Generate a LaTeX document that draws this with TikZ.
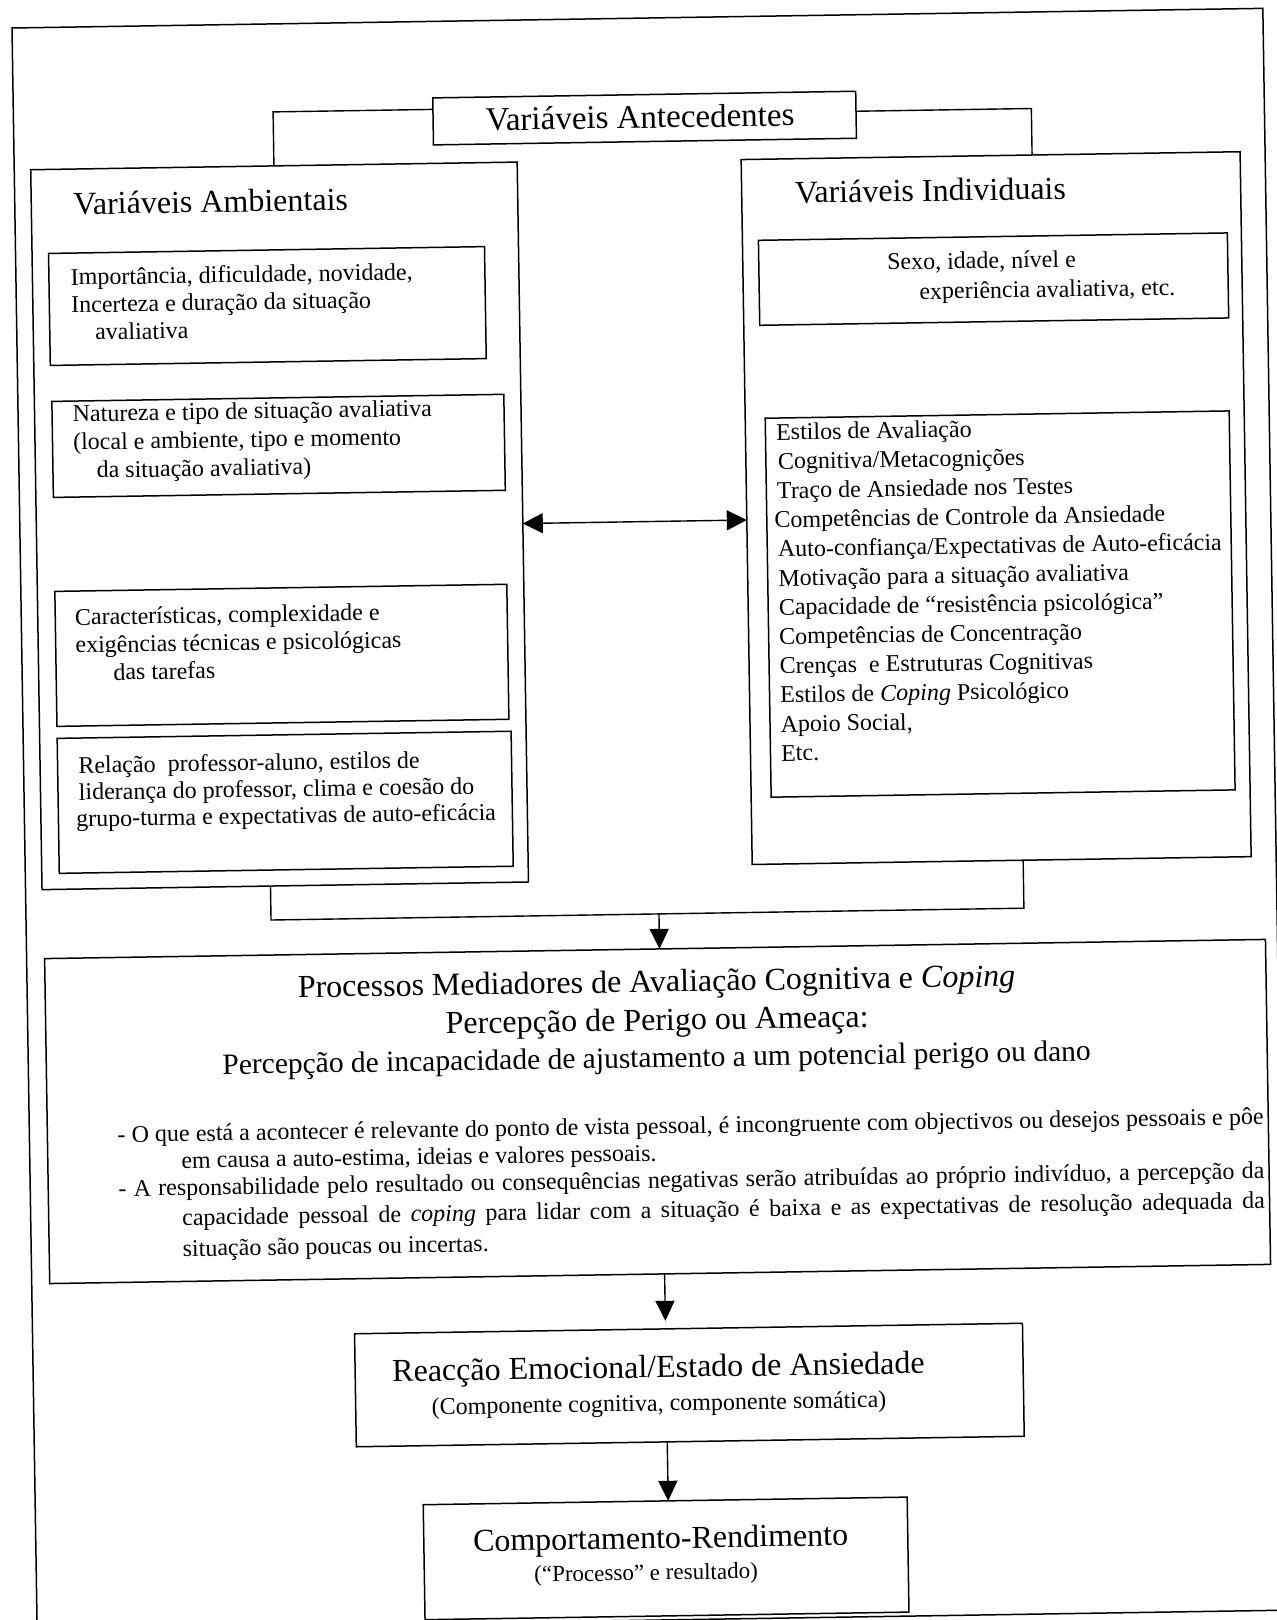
\documentclass[tikz,border=0pt]{standalone}
\usepackage{fontspec}
\setmainfont{Liberation Serif}
\usetikzlibrary{arrows.meta}
% stacked lines of text, first baseline at the node's base
\newcommand{\linesblock}[2]{\fontsize{24}{#1}\selectfont\begin{tabular}[t]{@{}l@{}}#2\end{tabular}}
\begin{document}
\begin{tikzpicture}[x=1pt,y=-1pt,
  panel/.style={draw, line width=1.5pt, inner sep=0pt, outer sep=0pt},
  link/.style={line width=1.4pt},
  flow/.style={line width=1.4pt, -{Triangle[length=20pt,width=19pt]}},
  headA/.style={inner sep=0pt, font=\fontsize{33}{40}\selectfont},
  head/.style={inner sep=0pt, font=\fontsize{32}{38}\selectfont},
  body/.style={inner sep=0pt, font=\fontsize{24}{28}\selectfont},
]
\useasboundingbox (0,0) rectangle (1277,1620);
\clip (0,0) rectangle (1277,1620);
\begin{scope}[rotate around={0.9:(12,28)}, transform shape]
  % outer frame
  \draw[line width=1.5pt] (12,28) rectangle (1263,1630);

  % boxes
  \node[panel, minimum width=423pt, minimum height=47pt]  (ant)  at (643.1,128) {};
  \node[panel, minimum width=486.5pt, minimum height=720pt] (amb) at (271.75,530) {};
  \node[panel, minimum width=499pt, minimum height=705pt] (ind)  at (988.5,523.5) {};
  \node[panel, minimum width=436pt, minimum height=112pt] (a1)   at (263,310) {};
  \node[panel, minimum width=452pt, minimum height=96pt]  (a2)   at (272,450) {};
  \node[panel, minimum width=452pt, minimum height=135pt] (a3)   at (272,659.5) {};
  \node[panel, minimum width=454pt, minimum height=135pt] (a4)   at (273,806.5) {};
  \node[panel, minimum width=469pt, minimum height=85pt]  (i1)   at (989.5,294.5) {};
  \node[panel, minimum width=464pt, minimum height=379pt] (i2)   at (991,619.5) {};
  \node[panel, minimum width=1221pt, minimum height=325pt] (proc) at (640.5,1121.5) {};
  \node[panel, minimum width=668pt, minimum height=113pt] (reac) at (668,1395.5) {};
  \node[panel, minimum width=484pt, minimum height=115pt] (comp) at (642,1568.5) {};

  % connector positions
  \coordinate (tl) at (0,116);
  \coordinate (tr) at (1030,124.5);
  \coordinate (dbl) at (0,531.5);
  \coordinate (bl) at (257,924);
  \coordinate (br) at (1010,924);
  \coordinate (ac) at (645,924);

  % connectors
  \draw[link] (ant.west |- tl) -| (amb.north);
  \draw[link] (ant.east |- tr) -| (ind.north -| tr);
  \draw[link, {Triangle[length=20pt,width=20pt]}-{Triangle[length=20pt,width=20pt]}]
    (amb.east |- dbl) -- (ind.west |- dbl);
  \draw[link] (amb.south -| bl) -- (bl) -- (br) -- (ind.south -| br);
  \draw[flow] (ac) -- (proc.north -| ac);
  \draw[flow, shorten >=8pt] (proc.south -| ac) -- (reac.north -| ac);
  \draw[flow] (reac.south -| ac) -- (comp.north -| ac);

  % headings
  \node[headA, anchor=base] (t-ant) at (638.6,138) {Variáveis Antecedentes};
  \node[head, anchor=base west] (t-amb) at (70.4,215.5) {Variáveis Ambientais};
  \node[head, anchor=base west] (t-ind) at (792,215.5) {Variáveis Individuais};

  % environmental variables
  \node[body, anchor=base west] (t-a1) at (66.7,286) {\linesblock{27.6pt}{%
    Importância, dificuldade, novidade,\\
    Incerteza e duração da situação\\
    \hspace*{23.5pt}avaliativa}};
  \node[body, anchor=base west] (t-a2) at (66.5,422.7) {\linesblock{28.2pt}{%
    Natureza e tipo de situação avaliativa\\
    (local e ambiente, tipo e momento\\
    \hspace*{23pt}da situação avaliativa)}};
  \node[body, anchor=base west] (t-a3) at (65.6,626) {\linesblock{27.8pt}{%
    Características, complexidade e\\
    exigências técnicas e psicológicas\\
    \hspace*{37.5pt}das tarefas}};
  \node[body, anchor=base west] (t-a4) at (66.6,774.3) {\linesblock{26.7pt}{%
    Relação\ \ professor-aluno, estilos de\\
    liderança do professor, clima e coesão do\\
    \hspace*{-3pt}grupo-turma e expectativas de auto-eficácia}};

  % individual variables
  \node[body, anchor=base west] (t-i1) at (883.2,283.7) {\linesblock{29.8pt}{%
    Sexo, idade, nível e\\
    \hspace*{31.8pt}experiência avaliativa, etc.}};
  \node[body, anchor=base west] (t-i2) at (769.5,452) {\linesblock{29.2pt}{%
    Estilos de Avaliação\\
    \hspace*{1.5pt}Cognitiva/Metacognições\\
    Traço de Ansiedade nos Testes\\
    \hspace*{-3pt}Competências de Controle da Ansiedade\\
    Auto-confiança/Expectativas de Auto-eficácia\\
    Motivação para a situação avaliativa\\
    Capacidade de “resistência psicológica”\\
    Competências de Concentração\\
    Crenças\ \ e Estruturas Cognitivas\\
    Estilos de \textit{Coping} Psicológico\\
    Apoio Social,\\
    Etc.}};

  % mediating processes
  \node[head, anchor=base] (t-p1) at (641.5,1002) {Processos Mediadores de Avaliação Cognitiva e \textit{Coping}};
  \node[head, anchor=base] (t-p2) at (641.5,1040.5) {Percepção de Perigo ou Ameaça:};
  \node[inner sep=0pt, font=\fontsize{29.5}{35}\selectfont, anchor=base] (t-p3) at (640.3,1077.5)
    {Percepção de incapacidade de ajustamento a um potencial perigo ou dano};
  \node[body, anchor=base west] (t-b1) at (100,1144) {\makebox[1146pt][s]{- O que está a acontecer é relevante do ponto de vista pessoal, é incongruente com objectivos ou desejos pessoais e pôe}};
  \node[body, anchor=base west] (t-b2) at (163.4,1171) {em causa a auto-estima, ideias e valores pessoais.};
  \node[body, anchor=base west] (t-b3) at (100,1198) {\makebox[1146pt][s]{- A responsabilidade pelo resultado ou consequências negativas serão atribuídas ao próprio indivíduo, a percepção da}};
  \node[body, anchor=base west] (t-b4) at (163.4,1228) {\makebox[1082.6pt][s]{capacidade pessoal de \textit{coping} para lidar com a situação é baixa e as expectativas de resolução adequada da}};
  \node[body, anchor=base west] (t-b5) at (163.4,1259) {situação são poucas ou incertas.};

  % emotional reaction
  \node[head, anchor=base] (t-r1) at (637.3,1387.5) {Reacção Emocional/Estado de Ansiedade};
  \node[body, anchor=base] (t-r2) at (637.3,1421) {(Componente cognitiva, componente somática)};

  % behaviour and performance
  \node[head, anchor=base] (t-c1) at (636.8,1558.5) {Comportamento-Rendimento};
  \node[inner sep=0pt, font=\fontsize{23}{28}\selectfont, anchor=base] (t-c2) at (621.7,1590) {(“Processo” e resultado)};
\end{scope}
\end{tikzpicture}
\end{document}
